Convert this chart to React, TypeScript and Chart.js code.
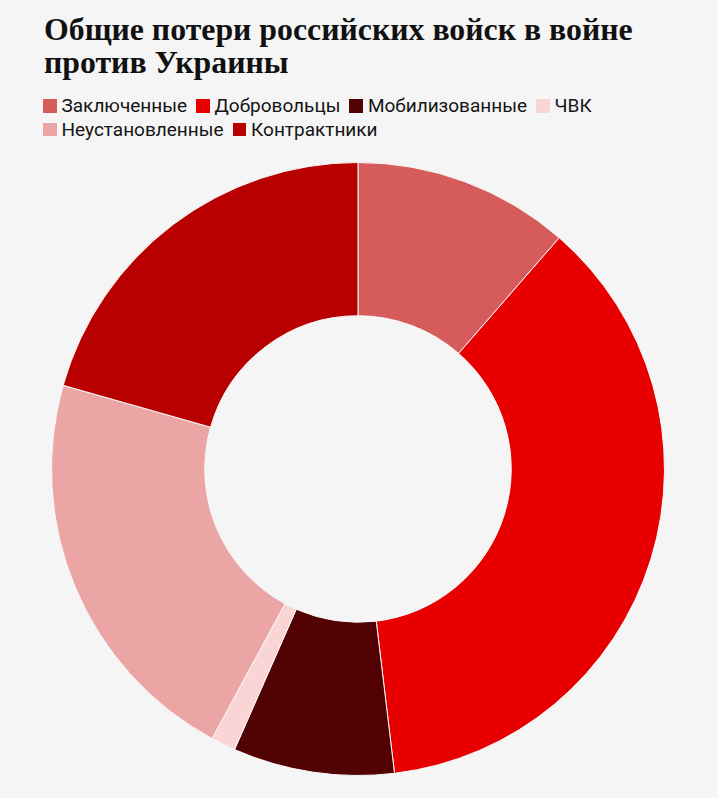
import React, { useEffect, useRef } from "react";
import { Chart, registerables } from "chart.js";

Chart.register(...registerables);

// Categories and share of losses
const categories: string[] = [
  "Заключенные",
  "Добровольцы",
  "Мобилизованные",
  "ЧВК",
  "Неустановленные",
  "Контрактники",
];
const losses: number[] = [11.4, 36.7, 8.5, 1.3, 21.5, 20.6];
const palette: string[] = [
  "#d65c5b",
  "#e80000",
  "#520202",
  "#f9d5d5",
  "#eba5a4",
  "#b90000",
];

const title = "Общие потери российских войск в войне против Украины";

const LossesDonut: React.FC = () => {
  const canvasRef = useRef<HTMLCanvasElement>(null);
  const chartRef = useRef<Chart | null>(null);

  useEffect(() => {
    if (!canvasRef.current) return;
    const ctx = canvasRef.current.getContext("2d");
    if (!ctx) return;

    if (chartRef.current) chartRef.current.destroy();

    chartRef.current = new Chart(ctx, {
      type: "doughnut",
      data: {
        labels: categories,
        datasets: [
          {
            data: losses,
            backgroundColor: palette,
            borderColor: "#f8f8f8",
            borderWidth: 1,
          },
        ],
      },
      options: {
        responsive: true,
        maintainAspectRatio: false,
        animation: false,
        cutout: "50%",
        layout: { padding: 0 },
        plugins: {
          legend: { display: false },
          tooltip: { enabled: false },
        },
      },
    });

    return () => {
      if (chartRef.current) {
        chartRef.current.destroy();
        chartRef.current = null;
      }
    };
  }, []);

  return (
    <div
      style={{
        position: "fixed",
        top: 0,
        left: 0,
        width: "718px",
        height: "798px",
        background: "#f5f5f5",
        overflow: "hidden",
      }}
    >
      <div
        style={{
          position: "absolute",
          left: "44px",
          top: "14px",
          width: "640px",
          fontFamily: '"Liberation Serif", serif',
          fontWeight: 700,
          fontSize: "31.8px",
          lineHeight: "32.5px",
          color: "#111111",
        }}
      >
        {title}
      </div>
      <div
        style={{
          position: "absolute",
          left: "43px",
          top: "94px",
          width: "640px",
          display: "flex",
          flexWrap: "wrap",
          columnGap: "9px",
          rowGap: "0px",
          fontFamily: "Roboto, sans-serif",
          fontSize: "19px",
          lineHeight: "23.7px",
          color: "#141414",
        }}
      >
        {categories.map((c, i) => (
          <div key={c} style={{ display: "flex", alignItems: "center", gap: "5px" }}>
            <span
              style={{
                display: "inline-block",
                width: "13.5px",
                height: "13.5px",
                background: palette[i],
              }}
            />
            <span>{c}</span>
          </div>
        ))}
      </div>
      <div
        style={{
          position: "absolute",
          left: "51px",
          top: "162px",
          width: "614px",
          height: "614px",
        }}
      >
        <canvas ref={canvasRef}></canvas>
      </div>
    </div>
  );
};

export default function App() {
  return <LossesDonut />;
}
